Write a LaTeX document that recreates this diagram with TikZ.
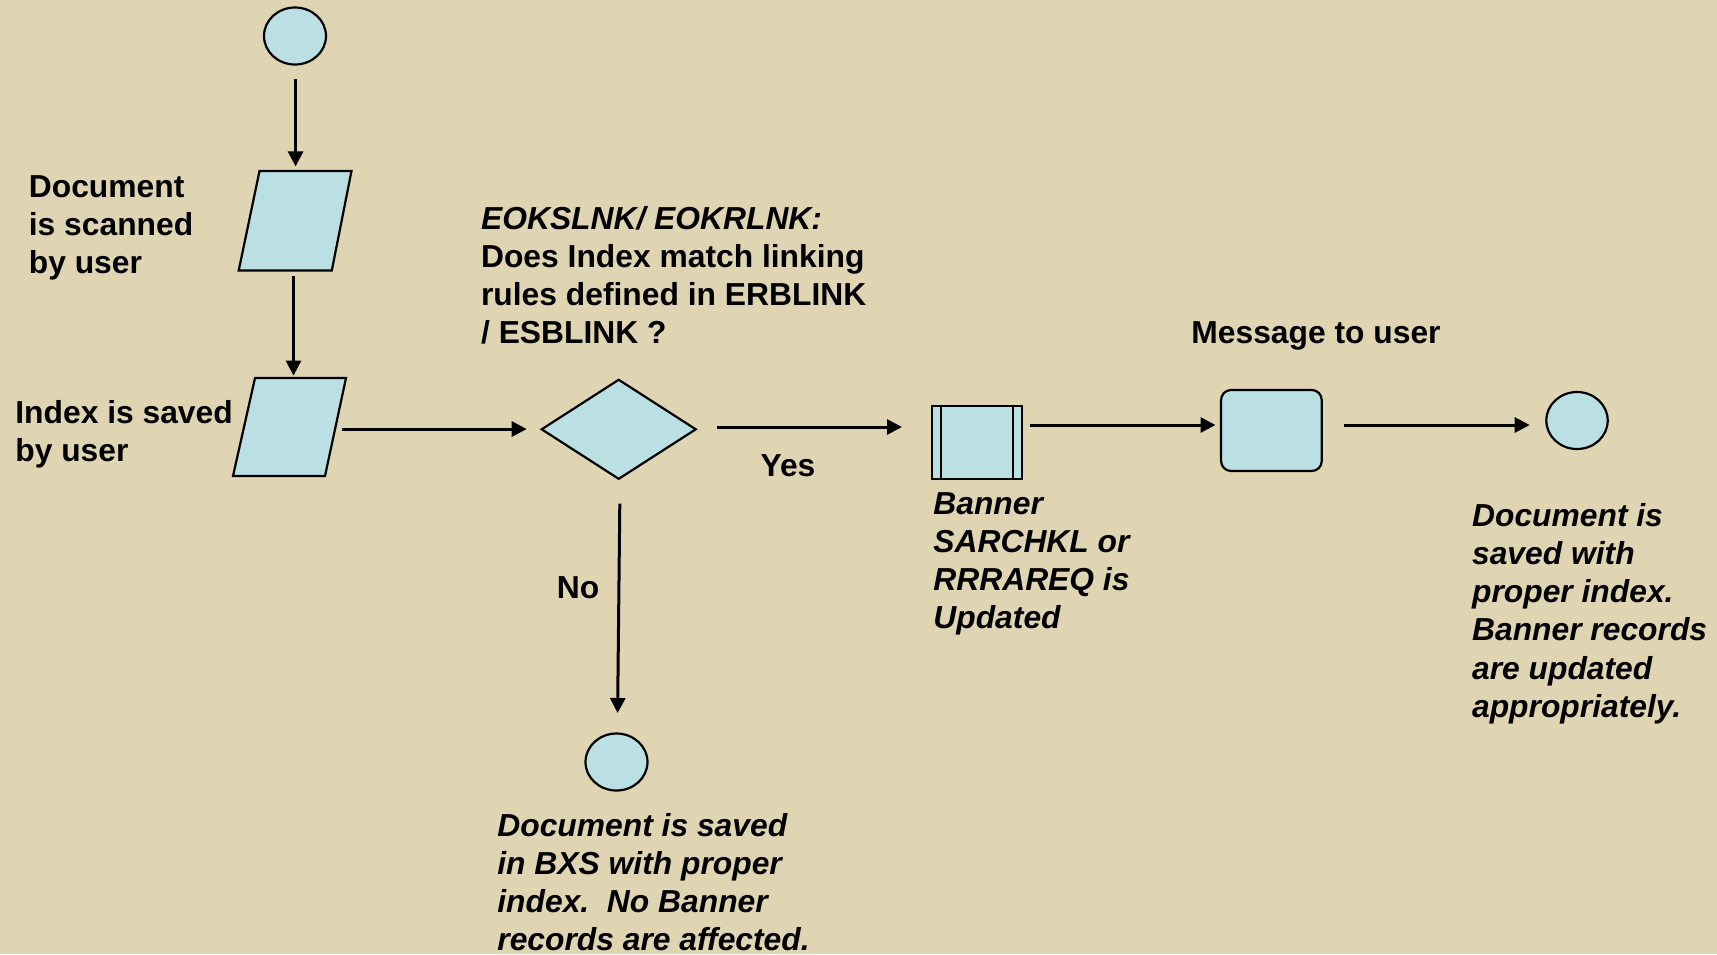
\documentclass[tikz,border=0pt]{standalone}
\usepackage{fontspec}
\setmainfont{Liberation Sans}
\usetikzlibrary{shapes.geometric,arrows.meta}
\definecolor{bg}{RGB}{224,213,179}
\definecolor{sfill}{RGB}{186,224,228}
\begin{document}
\begin{tikzpicture}[x=0.5pt,y=-0.5pt,
  shapeline/.style={draw=black, line width=1.1pt, fill=sfill},
  terminal/.style={ellipse, shapeline, inner sep=0pt, minimum width=31pt, minimum height=28.5pt},
  conn/.style={line width=1.5pt, -{Triangle[length=7.5pt,width=7.5pt]}},
  lbl/.style={font=\fontsize{15.9}{19.15}\selectfont\bfseries, align=left, inner sep=0pt, anchor=base west},
  ilbl/.style={lbl, font=\fontsize{15.9}{19.15}\selectfont\bfseries\itshape},
]
\fill[bg] (0,0) rectangle (1717,954);
\useasboundingbox (0,0) rectangle (1717,954);

% shapes
\node[terminal] (start) at (295,36) {};
\draw[shapeline] (259.5,171) -- (351.5,171) -- (331.8,270.5) -- (238.7,270.5) -- cycle;
\coordinate (scan) at (295.4,220.7);
\draw[shapeline] (255,378) -- (346,378) -- (325,476) -- (233,476) -- cycle;
\coordinate (index) at (289.8,427);
\node[diamond, shapeline, inner sep=0pt, minimum width=77.5pt, minimum height=50pt] (dec) at (618.7,429.3) {};
\node[rectangle, shapeline, inner sep=0pt, minimum width=45pt, minimum height=36.5pt] (proc) at (976.8,442.2) {};
\draw[line width=1.1pt] ([xshift=5pt]proc.north west) -- ([xshift=5pt]proc.south west);
\draw[line width=1.1pt] ([xshift=-5pt]proc.north east) -- ([xshift=-5pt]proc.south east);
\node[rectangle, rounded corners=5pt, shapeline, inner sep=0pt, minimum width=50.35pt, minimum height=40.5pt] (msg) at (1271.4,430.5) {};
\node[terminal, minimum width=30.7pt] (endok) at (1577,420.5) {};
\node[terminal] (endno) at (616.5,762) {};

% connector ends
\coordinate (a1s) at (295.6,79);
\coordinate (a1e) at (295.6,166.4);
\coordinate (a2s) at (293.5,276);
\coordinate (a2e) at (293.5,375.6);
\coordinate (a3s) at (341.6,429);
\coordinate (a3e) at (526.7,429);
\coordinate (a4s) at (717,427);
\coordinate (a4e) at (902,427);
\coordinate (a5s) at (1030,425);
\coordinate (a5e) at (1215.5,425);
\coordinate (a6s) at (1343.6,425);
\coordinate (a6e) at (1529.7,425);
\coordinate (a7s) at (619.8,503.7);
\coordinate (a7e) at (617.6,713);

\draw[conn] (a1s) -- (a1e);
\draw[conn] (a2s) -- (a2e);
\draw[conn] (a3s) -- (a3e);
\draw[conn] (a4s) -- (a4e);
\draw[conn] (a5s) -- (a5e);
\draw[conn] (a6s) -- (a6e);
\draw[conn] (a7s) -- (a7e);

% labels (anchor = baseline of the last line)
\node[lbl] (tscan) at (28.5,273.6) {Document\\is scanned\\by user};
\node[lbl] (tindex) at (15,461.3) {Index is saved\\by user};
\node[lbl] (tdec) at (480.7,343.9) {\textit{EOKSLNK/ EOKRLNK:}\\Does Index match linking\\rules defined in ERBLINK\\/ ESBLINK ?};
\node[lbl, anchor=base] (tyes) at (788,476) {Yes};
\node[lbl, anchor=base] (tno) at (578,598) {No};
\node[ilbl] (tproc) at (933,628.9) {Banner\\SARCHKL or\\RRRAREQ is\\Updated};
\node[lbl] (tmsg) at (1191,343) {Message to user};
\node[ilbl] (tok) at (1471.7,717.5) {Document is\\saved with\\proper index.\\Banner records\\are updated\\appropriately.};
\node[ilbl] (tnoend) at (497,950.9) {Document is saved\\in BXS with proper\\index.\ \ No Banner\\records are affected.};
\end{tikzpicture}
\end{document}
